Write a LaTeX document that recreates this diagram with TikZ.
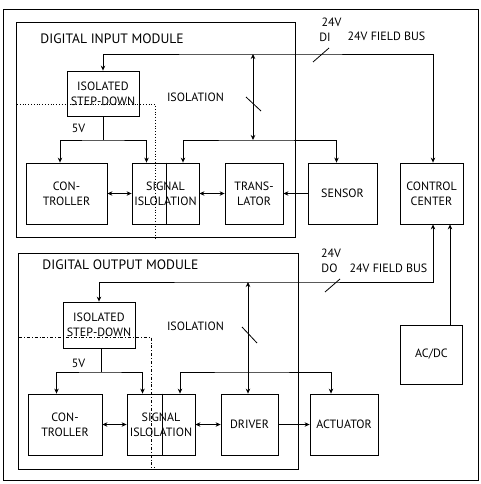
\documentclass[tikz,border=0pt]{standalone}
\usepackage{fontspec}
\setmainfont{PT Sans}
\usetikzlibrary{positioning,arrows.meta}

\begin{document}
\begin{tikzpicture}[x=1pt,y=-1pt,line width=0.8pt,
  >={Stealth[length=5pt,width=4.5pt]},
  block/.style={draw,inner sep=0pt,align=center,font=\fontsize{12}{15}\selectfont},
  modframe/.style={draw,inner sep=0pt},
  lbl/.style={inner sep=0pt,font=\fontsize{12}{14}\selectfont},
  title/.style={inner sep=0pt,anchor=west,font=\fontsize{13.6}{15}\selectfont}]

\useasboundingbox (0,0) rectangle (481,484);
\node[modframe,minimum width=475,minimum height=471] (outer) at (240.5,244.5) {};
\node[modframe,minimum width=279,minimum height=215] (dimod) at (155.5,129.5) {};
\node[modframe,minimum width=280,minimum height=216] (domod) at (158,361) {};

% digital input module
\node[block,minimum width=72,minimum height=45] (sdi) at (103,93.5) {ISOLATED\\STEP-DOWN};
\node[block,minimum width=81,minimum height=61] (ctrli) at (66.5,193.5) {CON-\\TROLLER};
\node[block,minimum width=67,minimum height=61] (sigi) at (165.5,193.5) {SIGNAL\\ISLOLATION};
\node[block,minimum width=58,minimum height=61] (trans) at (254,193.5) {TRANS-\\LATOR};
\node[block,minimum width=69,minimum height=61] (sensor) at (342.5,193.5) {SENSOR};
\node[block,minimum width=63,minimum height=61] (cc) at (431.5,193.5) {CONTROL\\CENTER};

% digital output module
\node[block,minimum width=72,minimum height=46] (sdo) at (99,325) {ISOLATED\\STEP-DOWN};
\node[block,minimum width=74,minimum height=61] (ctrlo) at (65,424.5) {CON-\\TROLLER};
\node[block,minimum width=68,minimum height=61] (sigo) at (161,424.5) {SIGNAL\\ISLOLATION};
\node[block,minimum width=57,minimum height=61] (driver) at (249.5,424.5) {DRIVER};
\node[block,minimum width=68,minimum height=61] (actuator) at (344,424.5) {ACTUATOR};
\node[block,minimum width=62,minimum height=59] (acdc) at (431.5,354.5) {AC/DC};

% labels
\node[title] (titi) at (40,39) {DIGITAL INPUT MODULE};
\node[title] (tito) at (42,265) {DIGITAL OUTPUT MODULE};
\node[lbl] (isoli) at (195.5,97) {ISOLATION};
\node[lbl] (isolo) at (195.5,326) {ISOLATION};
\node[lbl] (fvi) at (78.5,128) {5V};
\node[lbl] (fvo) at (78.5,363) {5V};
\node[lbl] (vdi) at (331.5,22) {24V};
\node[lbl] (di) at (325,37) {DI};
\node[lbl] (fbi) at (386.5,36) {24V FIELD BUS};
\node[lbl] (vdo) at (331,253) {24V};
\node[lbl] (do) at (329.5,268) {DO};
\node[lbl] (fbo) at (388.5,268) {24V FIELD BUS};

\coordinate (busdi) at (253,54);
\coordinate (isoi) at (253,140);
\coordinate (fivei) at (103,140);
\coordinate (busdo) at (248,282);
\coordinate (isoo) at (248,372);
\coordinate (fiveo) at (101,372);
\coordinate (ccin) at ([xshift=18.5pt]cc.south);

% input side connectors
\draw[<->] (sdi.north) |- (busdi) -| ([xshift=1.5pt]cc.north);
\draw[<->] (busdi) -- (isoi);
\draw[<->] ([xshift=17.5pt]sigi.north) |- (isoi) -| ([xshift=-6pt]sensor.north);
\draw (sdi.south) -- (fivei);
\draw[<->] ([xshift=-6.5pt]ctrli.north) |- (fivei) -| ([xshift=-19pt]sigi.north);
\draw[<->] (ctrli) -- (sigi);
\draw[<->] (sigi) -- (trans);
\draw[->] (sensor) -- (trans);
\draw ([xshift=0.5pt]sigi.north) -- ([xshift=0.5pt]sigi.south);

% output side connectors
\draw[<->] (sdo.north) |- (busdo) -| ([xshift=1.5pt]cc.south);
\draw[<->] (busdo) -- (busdo |- driver.north);
\draw[<->] ([xshift=19pt]sigo.north) |- (isoo) -| ([xshift=-13pt]actuator.north);
\draw (fiveo |- sdo.south) -- (fiveo);
\draw[<->] ([xshift=-8.5pt]ctrlo.north) |- (fiveo) -| ([xshift=-18.5pt]sigo.north);
\draw[<->] (ctrlo) -- (sigo);
\draw[<->] (sigo) -- (driver);
\draw[->] (driver) -- (actuator);
\draw ([xshift=1pt]sigo.north) -- ([xshift=1pt]sigo.south);
\draw[->] (acdc.north -| ccin) -- (ccin);

% isolation barriers and bus slashes
\draw[dotted] (17,104) -| (155,240);
\draw[dash dot] (19,337) -| (151,467) -- (155,467);
\draw (313,62) -- (329,48);
\draw (246,97) -- (261,111);
\draw (325,292) -- (340,279);
\draw (242,327) -- (257,343);
\end{tikzpicture}
\end{document}
